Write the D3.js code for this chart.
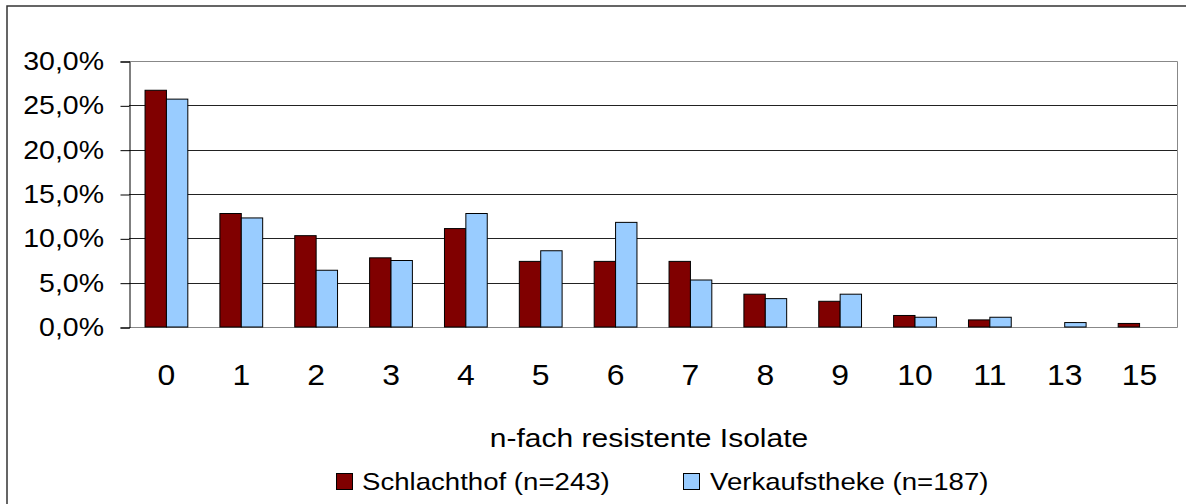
<!DOCTYPE html>
<html>
<head>
<meta charset="utf-8">
<script src="https://cdn.jsdelivr.net/npm/d3@7"></script>
<style>
  html, body { margin: 0; padding: 0; background: #fff; }
  svg { display: block; }
  text { font-family: "Liberation Sans", Arial, sans-serif; fill: #000; }
</style>
</head>
<body>
<svg id="chart" width="1186" height="504"></svg>
<script>
// Number of resistances per isolate
const categories = ["0", "1", "2", "3", "4", "5", "6", "7", "8", "9", "10", "11", "13", "15"];
// Share of isolates in percent
const schlachthof = [26.7, 12.8, 10.3, 7.8, 11.1, 7.4, 7.4, 7.4, 3.7, 2.9, 1.3, 0.8, 0, 0.4];
const verkaufstheke = [25.7, 12.3, 6.4, 7.5, 12.8, 8.6, 11.8, 5.3, 3.2, 3.7, 1.1, 1.1, 0.5, 0];
const seriesNames = ["Schlachthof (n=243)", "Verkaufstheke (n=187)"];
const yTicks = [0, 5, 10, 15, 20, 25, 30];
const axisTitle = "n-fach resistente Isolate";

const colors = ["#800000", "#99CCFF"];
const svg = d3.select("#chart");

const plot = { left: 129, right: 1177, top: 61, bottom: 327 };

const x = d3.scaleBand().domain(categories).range([plot.left, plot.right]).padding(0);
const groupWidth = x.bandwidth() * 2 / 3.5;
const xSeries = d3.scaleBand().domain([0, 1]).range([0, groupWidth]).padding(0);
const y = d3.scaleLinear().domain([0, 30]).range([plot.bottom, plot.top]);
const pct = d => d3.format(".1f")(d).replace(".", ",") + "%";

// text drawn slightly widened horizontally
function stretched(sel, sx) {
  return sel.attr("transform", function () {
    const px = +this.getAttribute("data-x"), py = +this.getAttribute("data-y");
    return `translate(${px},${py}) scale(${sx},1)`;
  });
}

// outer chart frame
svg.append("rect")
  .attr("x", 7).attr("y", 6).attr("width", 1200).attr("height", 520)
  .attr("fill", "none").attr("stroke", "#333").attr("stroke-width", 1.5);

// gridlines
svg.append("g").selectAll("line")
  .data(yTicks.filter(d => d > 0 && d < 30))
  .join("line")
  .attr("x1", plot.left).attr("x2", plot.right)
  .attr("y1", d => Math.round(y(d)) + 0.5).attr("y2", d => Math.round(y(d)) + 0.5)
  .attr("stroke", "#222").attr("stroke-width", 1);

// plot area border (top, right, bottom)
svg.append("path")
  .attr("d", `M${plot.left},${plot.top + 0.5}H${plot.right + 0.5}V${plot.bottom + 0.5}H${plot.left}`)
  .attr("fill", "none").attr("stroke", "#888").attr("stroke-width", 1);

// bars, one group per series
[schlachthof, verkaufstheke].forEach((vals, si) => {
  const rows = categories.map((c, i) => ({ c, v: vals[i] })).filter(r => r.v > 0);
  svg.append("g").selectAll("rect")
    .data(rows)
    .join("rect")
    .attr("x", r => x(r.c) + (x.bandwidth() - groupWidth) / 2 + xSeries(si))
    .attr("width", xSeries.bandwidth())
    .attr("y", r => y(r.v))
    .attr("height", r => plot.bottom - y(r.v))
    .attr("fill", colors[si])
    .attr("stroke", "#000").attr("stroke-width", 1);
});

// y axis line and ticks
const yAxis = d3.axisLeft(y).tickValues(yTicks).tickSize(9).tickFormat("");
const gy = svg.append("g").attr("transform", `translate(${plot.left + 0.5},0.5)`).call(yAxis);
gy.select(".domain").attr("stroke", "#000");
gy.selectAll(".tick line").attr("stroke", "#000");

// y tick labels
svg.append("g").selectAll("text")
  .data(yTicks)
  .join("text")
  .attr("data-x", 104).attr("data-y", d => y(d) + 9)
  .attr("text-anchor", "end")
  .attr("font-size", 25)
  .text(pct)
  .call(stretched, 1.14);

// x labels
svg.append("g").selectAll("text")
  .data(categories)
  .join("text")
  .attr("data-x", d => x(d) + x.bandwidth() / 2).attr("data-y", 385)
  .attr("text-anchor", "middle")
  .attr("font-size", 29)
  .text(d => d)
  .call(stretched, 1.1);

// axis title
svg.append("text")
  .attr("data-x", 649).attr("data-y", 447)
  .attr("text-anchor", "middle")
  .attr("font-size", 25)
  .text(axisTitle)
  .call(stretched, 1.2);

// legend
const legendItems = [{ sx: 336, tx: 362 }, { sx: 683, tx: 710 }];
legendItems.forEach((li, i) => {
  svg.append("rect")
    .attr("x", li.sx + 0.5).attr("y", 473.5).attr("width", 16).attr("height", 16)
    .attr("fill", colors[i]).attr("stroke", "#000").attr("stroke-width", 1);
  svg.append("text")
    .attr("data-x", li.tx).attr("data-y", 490)
    .attr("font-size", 24)
    .text(seriesNames[i])
    .call(stretched, 1.15);
});
</script>
</body>
</html>
